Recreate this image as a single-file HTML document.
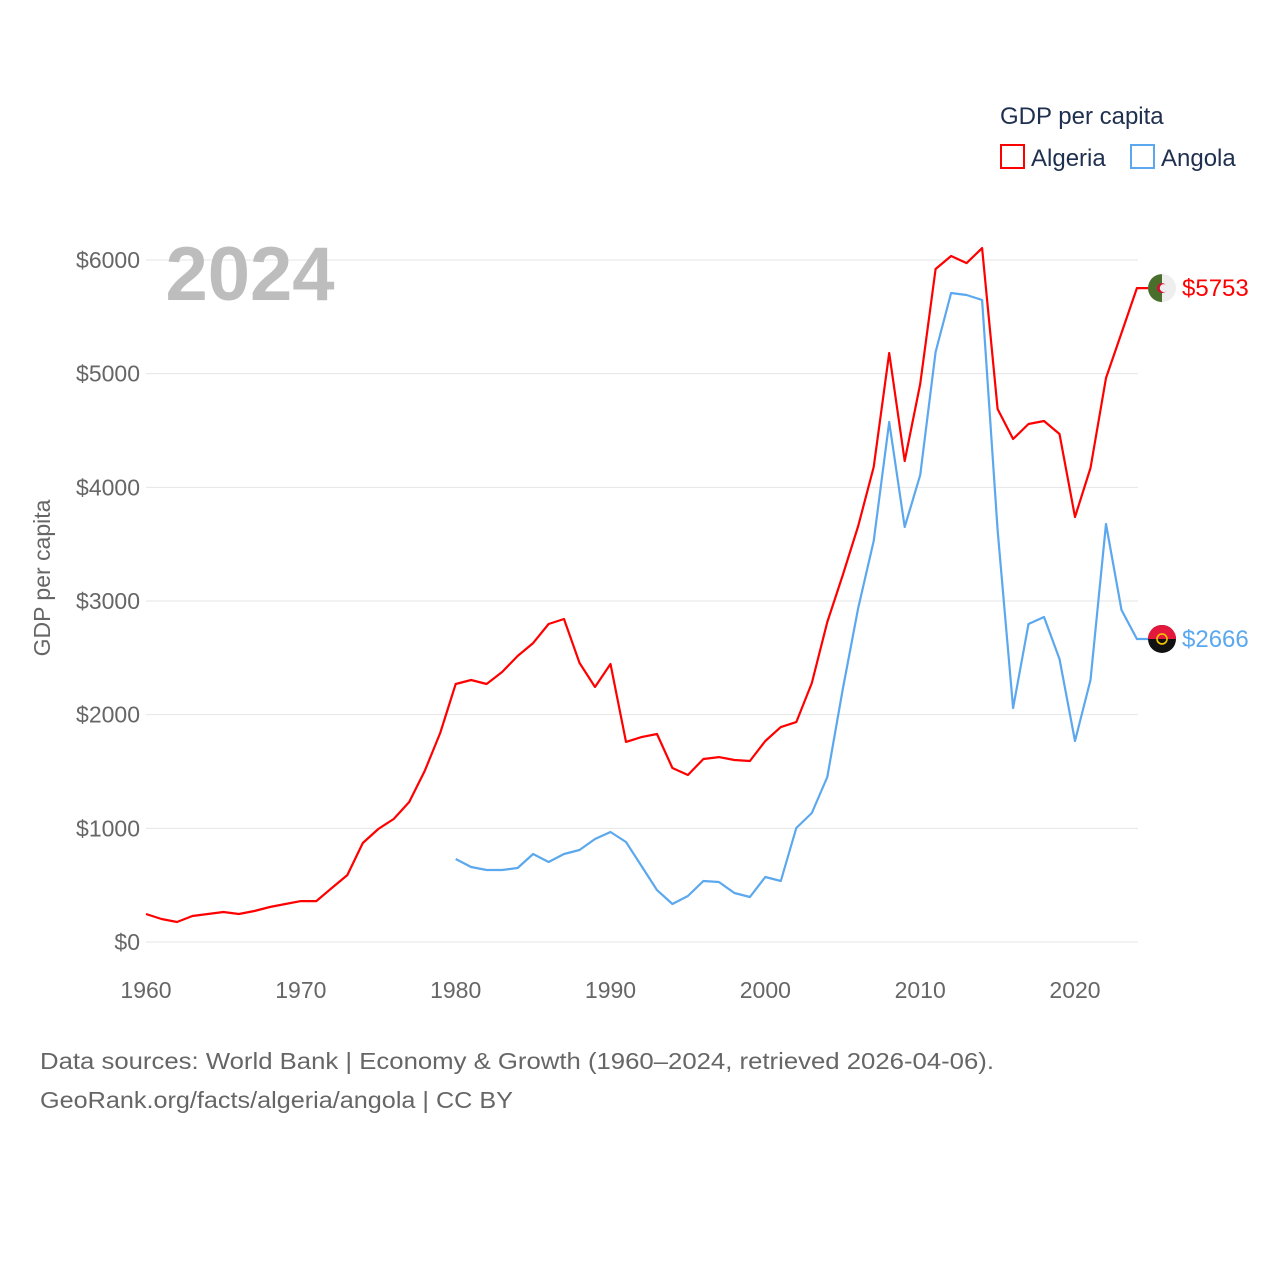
<!DOCTYPE html>
<html><head><meta charset="utf-8">
<style>
html,body{margin:0;padding:0;background:#fff;}
body{width:1280px;height:1280px;overflow:hidden;font-family:"Liberation Sans",sans-serif;}
svg text{font-family:"Liberation Sans",sans-serif;}
</style></head>
<body>
<svg id="chart" width="1280" height="1280" viewBox="0 0 1280 1280">
  <g id="grid"></g>
  <g id="yticks"></g>
  <g id="xticks"></g>
  <text x="250" y="300" font-size="76" font-weight="bold" fill="#bdbdbd" text-anchor="middle">2024</text>
  <text transform="translate(50,578) rotate(-90)" font-size="23" fill="#666" text-anchor="middle">GDP per capita</text>
  <g id="series"></g>
  <g>
    <text x="1000" y="124" font-size="24" fill="#1f2f4f">GDP per capita</text>
    <g>
      <rect x="1001" y="145" width="23" height="23" fill="none" stroke="#ff0000" stroke-width="2"/>
      <text x="1031" y="166" font-size="24" fill="#1f2f4f">Algeria</text>
    </g>
    <g>
      <rect x="1131" y="145" width="23" height="23" fill="none" stroke="#5ba8ee" stroke-width="2"/>
      <text x="1161" y="166" font-size="24" fill="#1f2f4f">Angola</text>
    </g>
  </g>
  <g>
    <text x="40" y="1069" font-size="23" fill="#666" textLength="954" lengthAdjust="spacingAndGlyphs">Data sources: World Bank | Economy &amp; Growth (1960–2024, retrieved 2026-04-06).</text>
    <text x="40" y="1108" font-size="23" fill="#666" textLength="473" lengthAdjust="spacingAndGlyphs">GeoRank.org/facts/algeria/angola | CC BY</text>
  </g>
</svg>
<script>
const yTicks = [0,1000,2000,3000,4000,5000,6000];
const xTicks = [1960,1970,1980,1990,2000,2010,2020];
const algeriaYears = [];
for (let y=1960;y<=2024;y++) algeriaYears.push(y);
const algeriaValues = [246,202,176,229,246,264,246,273,308,334,360,360,475,589,871,994,1082,1232,1504,1839,
2270,2305,2270,2375,2516,2630,2798,2842,2455,2243,2446,1760,1803,1830,1531,1469,1610,1627,1601,1592,
1768,1891,1935,2278,2815,3229,3660,4179,5182,4232,4909,5921,6035,5973,6105,4689,4425,4557,4584,4469,
3739,4170,4962,5358,5753];
const angolaYears = [];
for (let y=1980;y<=2024;y++) angolaYears.push(y);
const angolaValues = [730,660,633,633,651,774,704,774,809,906,968,880,669,457,334,405,537,528,431,396,
572,537,1003,1135,1452,2226,2938,3528,4575,3651,4108,5191,5710,5692,5648,3625,2059,2798,2859,2490,
1768,2305,3677,2921,2666];

const NS='http://www.w3.org/2000/svg';
const xs = yr => 146 + (yr-1960)*(1075-146)/60;
const ys = v => 942 - v*(942-260)/6000;
const grid = document.getElementById('grid');
const yg = document.getElementById('yticks');
const xg = document.getElementById('xticks');
const sg = document.getElementById('series');
function mk(tag, attrs, parent){const e=document.createElementNS(NS,tag);for(const k in attrs)e.setAttribute(k,attrs[k]);parent.appendChild(e);return e;}

yTicks.forEach(v=>{
  const l = mk('line',{x1:146,x2:1138,y1:ys(v),y2:ys(v),stroke:'#e6e6e6','stroke-width':1},grid);
  
  
  const t = mk('text',{x:140,y:ys(v)+8,'font-size':23,fill:'#666','text-anchor':'end'},yg);
  t.textContent='$'+v;
  
  
});
xTicks.forEach(yr=>{
  const t = mk('text',{x:xs(yr),y:998,'font-size':23,fill:'#666','text-anchor':'middle'},xg);
  t.textContent=yr;
  
  
});

function drawSeries(years, vals, color, name, flagFn){
  const pts = years.map((y,i)=>xs(y).toFixed(1)+','+ys(vals[i]).toFixed(1));
  const last = ys(vals[vals.length-1]);
  pts.push('1148,'+last.toFixed(1));
  const p = mk('polyline',{points:pts.join(' '),fill:'none',stroke:color,'stroke-width':2.2,'stroke-linejoin':'round'},sg);
  
  
  const g = mk('g',{},sg);
  
  
  flagFn(g,1162,last);
  const t = mk('text',{x:1182,y:last+8,'font-size':24,fill:color},sg);
  t.textContent='$'+vals[vals.length-1];
  
  
}
drawSeries(algeriaYears, algeriaValues, '#ff0000', 'algeria', (g,cx,cy)=>{
  mk('circle',{cx:cx,cy:cy,r:14,fill:'#eeeeee'},g);
  mk('path',{d:`M${cx},${cy-14} A14,14 0 0,0 ${cx},${cy+14} Z`,fill:'#4a6f2c'},g);
  mk('circle',{cx:cx,cy:cy,r:5,fill:'#d21034'},g);
  mk('circle',{cx:cx+1.8,cy:cy,r:4,fill:'#eeeeee'},g);
});
drawSeries(angolaYears, angolaValues, '#5ba8ee', 'angola', (g,cx,cy)=>{
  mk('circle',{cx:cx,cy:cy,r:14,fill:'#111'},g);
  mk('path',{d:`M${cx-14},${cy} A14,14 0 0,1 ${cx+14},${cy} Z`,fill:'#e3183c'},g);
  mk('circle',{cx:cx,cy:cy,r:5,fill:'none',stroke:'#f5c400','stroke-width':1.6},g);
});
</script>
</body></html>
